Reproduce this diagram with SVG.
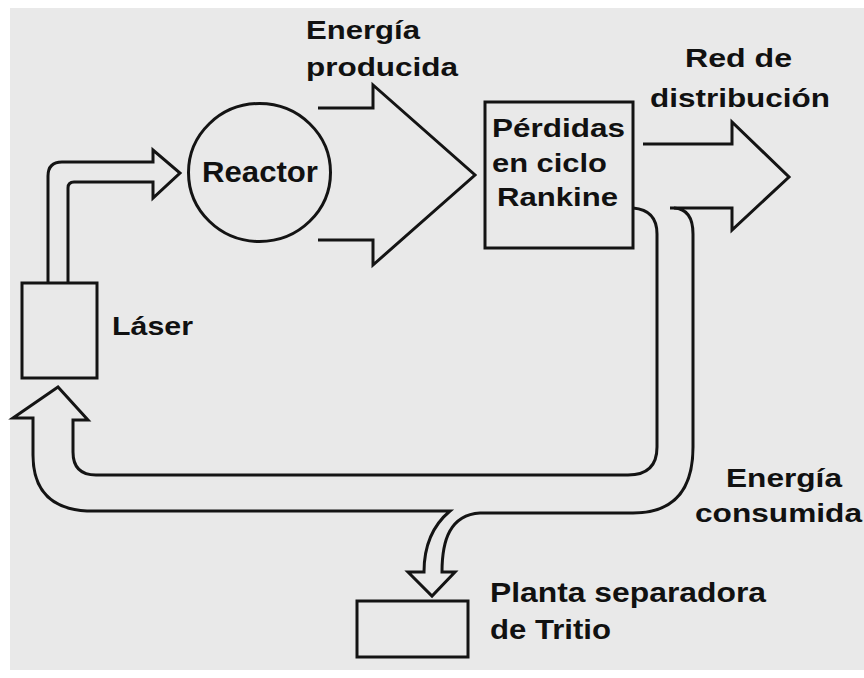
<svg xmlns="http://www.w3.org/2000/svg" width="864" height="678" viewBox="0 0 864 678">
<style>
.ln{fill:none;stroke:#141414;stroke-width:3;stroke-linejoin:miter;stroke-linecap:butt}
.bx{fill:none;stroke:#141414;stroke-width:3}
.t{font-family:"Liberation Sans",Arial,sans-serif;font-weight:bold;fill:#111;font-size:26px}
</style>
<rect x="0" y="0" width="864" height="678" fill="#ffffff"/>
<rect x="10" y="8" width="854" height="662" fill="#e9e9e9"/>
<g id="connectors">
<path class="ln" d="M48,283 V176 Q48,162 62,162 H153 V150 L180,173 L153,198 V182 H74 Q68,182 68,188 V283"/>
<path class="ln" d="M318,108 H373 V85 L475,175 L373,265 V240 H318"/>
<path class="ln" d="M643,144 H732 V122 L789,177 L732,230 V208 H670"/>
<path class="ln" d="M674,208 Q693,209 693,234 V447 Q693,513 633,513 H480 C450,515 442,540 442,572 H455 L432,596 L408,572 H424 C424,548 432,526 450,511 H87 Q33,508 33,455 V418 H13 L58,387 L88,420 H73 V452 Q73,475 96,475 H628 Q657,475 657,447 V234 Q657,210 633,208"/>
</g>
<g id="laser">
<rect class="bx" x="22" y="283" width="75" height="95"/>
<text class="t" x="112" y="335" font-size="27" textLength="81" lengthAdjust="spacingAndGlyphs">Láser</text>
</g>
<g id="reactor">
<ellipse class="bx" cx="259.5" cy="172.5" rx="71" ry="69"/>
<text class="t" x="202" y="182" style="font-size:30px" textLength="116" lengthAdjust="spacingAndGlyphs">Reactor</text>
</g>
<g id="rankine">
<rect class="bx" x="485" y="102" width="148" height="146"/>
<text class="t" x="492" y="137" textLength="133" lengthAdjust="spacingAndGlyphs">Pérdidas</text>
<text class="t" x="492" y="172" textLength="115" lengthAdjust="spacingAndGlyphs">en ciclo</text>
<text class="t" x="497" y="206" textLength="121" lengthAdjust="spacingAndGlyphs">Rankine</text>
</g>
<g id="planta">
<rect class="bx" x="357" y="601" width="111" height="56"/>
<text class="t" x="490" y="602" style="font-size:28px" textLength="276" lengthAdjust="spacingAndGlyphs">Planta separadora</text>
<text class="t" x="490" y="639" style="font-size:28px" textLength="121" lengthAdjust="spacingAndGlyphs">de Tritio</text>
</g>
<g id="label-producida">
<text class="t" x="306" y="39" textLength="114" lengthAdjust="spacingAndGlyphs">Energía</text>
<text class="t" x="306" y="76" textLength="152" lengthAdjust="spacingAndGlyphs">producida</text>
</g>
<g id="label-red">
<text class="t" x="685" y="67" textLength="107" lengthAdjust="spacingAndGlyphs">Red de</text>
<text class="t" x="650" y="107" textLength="180" lengthAdjust="spacingAndGlyphs">distribución</text>
</g>
<g id="label-consumida">
<text class="t" x="726" y="487" textLength="116" lengthAdjust="spacingAndGlyphs">Energía</text>
<text class="t" x="695" y="522" textLength="167" lengthAdjust="spacingAndGlyphs">consumida</text>
</g>
</svg>
